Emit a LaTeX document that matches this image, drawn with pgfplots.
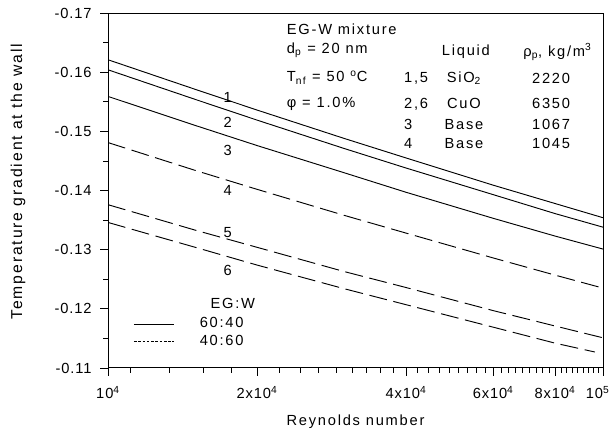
\documentclass[border=0pt]{standalone}
\usepackage{pgfplots}
\pgfplotsset{compat=1.18}
\usepackage{fontspec}
\setmainfont{Liberation Sans}[LetterSpace=12]
\newfontfamily\tickfont{Liberation Sans}[LetterSpace=6]

\begin{document}
\fontsize{11}{13}\selectfont
\begin{tikzpicture}
\begin{semilogxaxis}[
  name=ax, scale only axis, width=371.25pt, height=266.25pt,
  xmin=10000, xmax=100000, ymin=-0.17, ymax=-0.11, y dir=reverse,
  xtick={10000,20000,40000,60000,80000,100000},
  xticklabels={10\textsuperscript{4}, 2x10\textsuperscript{4}, 4x10\textsuperscript{4},
               6x10\textsuperscript{4}, 8x10\textsuperscript{4}, \hspace*{-8pt}10\textsuperscript{5}},
  minor xtick={11111,13333,15556,17778,22222,24444,26667,28889,31111,33333,35556,37778,
               42222,44444,46667,48889,51111,53333,55556,57778,62222,64444,66667,68889,
               71111,73333,75556,77778,82222,84444,86667,88889,91111,93333,95556,97778},
  ytick={-0.17,-0.16,-0.15,-0.14,-0.13,-0.12,-0.11},
  minor y tick num=1,
  yticklabel style={font=\tickfont, xshift=-2.5pt,
                    /pgf/number format/fixed, /pgf/number format/fixed zerofill,
                    /pgf/number format/precision=2, /pgf/number format/assume math mode=true},
  xticklabel style={font=\tickfont, yshift=-4pt},
  xtick pos=left, ytick pos=left,
  tick align=outside, major tick length=6pt, minor tick length=3.5pt,
  axis line style={line width=0.75pt},
  every tick/.style={black, line width=0.6pt},
  xlabel={Reynolds number},
  xlabel style={at={(axis description cs:0.5,0)}, anchor=center, yshift=-40pt},
  ylabel={Temperature gradient at the wall},
  ylabel style={at={(axis description cs:-0.1818,0.525)}, anchor=center,
                font=\fontsize{11.8}{14}\selectfont},
  legend image code/.code={\draw[#1] (0pt,0pt) -- (30pt,0pt);},
  legend style={draw=none, fill=none, at={(axis description cs:0.051,0.099)},
                anchor=west, inner sep=0pt, row sep=2pt, column sep=18pt,
                nodes={inner sep=1pt}},
  legend cell align=left,
]
% 60:40 (solid)
\addplot[forget plot, black, line width=0.7pt] coordinates {
  (10000,-0.1621) (15000,-0.1571) (20000,-0.1536) (30000,-0.1488)
  (40000,-0.1455) (60000,-0.1409) (80000,-0.1378) (100000,-0.1354)};
\addplot[forget plot, black, line width=0.7pt] coordinates {
  (10000,-0.1604) (15000,-0.1554) (20000,-0.1519) (30000,-0.1471)
  (40000,-0.1438) (60000,-0.1393) (80000,-0.1361) (100000,-0.1338)};
\addplot[forget plot, black, line width=0.7pt] coordinates {
  (10000,-0.1559) (15000,-0.1510) (20000,-0.1476) (30000,-0.1430)
  (40000,-0.1397) (60000,-0.1353) (80000,-0.1323) (100000,-0.1301)};
% 40:60 (dashed)
\addplot[forget plot, black, line width=0.7pt, dash pattern=on 13.5pt off 5pt] coordinates {
  (10000,-0.1481) (15000,-0.1434) (20000,-0.1402) (30000,-0.1358)
  (40000,-0.1328) (60000,-0.1286) (80000,-0.1257) (100000,-0.1235)};
\addplot[forget plot, black, line width=0.7pt, dash pattern=on 13.5pt off 5pt] coordinates {
  (10000,-0.1376) (15000,-0.1333) (20000,-0.1304) (30000,-0.1263)
  (40000,-0.1236) (60000,-0.1197) (80000,-0.1171) (100000,-0.1151)};
\addplot[forget plot, black, line width=0.7pt, dash pattern=on 13.5pt off 5pt] coordinates {
  (10000,-0.1346) (15000,-0.1304) (20000,-0.1274) (30000,-0.1234)
  (40000,-0.1207) (60000,-0.1169) (80000,-0.1142) (96300,-0.1127)};

\addlegendimage{black, line width=0.7pt}
\addlegendentry{60:40}
\addlegendimage{black, line width=0.5pt, dash pattern=on 2pt off 1.2pt}
\addlegendentry{40:60}

% curve numbers
\node at (axis description cs:0.242,0.763) {1};
\node at (axis description cs:0.242,0.693) {2};
\node at (axis description cs:0.242,0.614) {3};
\node at (axis description cs:0.242,0.499) {4};
\node at (axis description cs:0.242,0.383) {5};
\node at (axis description cs:0.242,0.276) {6};
\node at (axis description cs:0.252,0.183) {EG:W};

% parameters
\node[anchor=west] at (axis description cs:0.351,0.955) {EG-W mixture};
\node[anchor=west] at (axis description cs:0.351,0.896) {d\textsubscript{p} = 20 nm};
\node[anchor=west] at (axis description cs:0.351,0.818) {T\textsubscript{nf} = 50 \textsuperscript{o}C};
\node[anchor=west] at (axis description cs:0.351,0.744) {φ = 1.0\%};

\node at (axis description cs:0.723,0.890) {Liquid};
\node at (axis description cs:0.908,0.890) {ρ\textsubscript{p}, kg/m\textsuperscript{3}};
\node[anchor=west] at (axis description cs:0.588,0.817) {1,5};
\node[anchor=west] at (axis description cs:0.588,0.744) {2,6};
\node[anchor=west] at (axis description cs:0.588,0.687) {3};
\node[anchor=west] at (axis description cs:0.588,0.633) {4};
\node at (axis description cs:0.719,0.817) {SiO\textsubscript{2}};
\node at (axis description cs:0.719,0.744) {CuO};
\node at (axis description cs:0.719,0.687) {Base};
\node at (axis description cs:0.719,0.633) {Base};
\node at (axis description cs:0.895,0.817) {2220};
\node at (axis description cs:0.895,0.744) {6350};
\node at (axis description cs:0.895,0.687) {1067};
\node at (axis description cs:0.895,0.633) {1045};
\end{semilogxaxis}
\pgfresetboundingbox
\path[use as bounding box] ([shift={(-81pt,-47.25pt)}]ax.south west)
  rectangle ([shift={(6.75pt,9.75pt)}]ax.north east);
\end{tikzpicture}
\end{document}
